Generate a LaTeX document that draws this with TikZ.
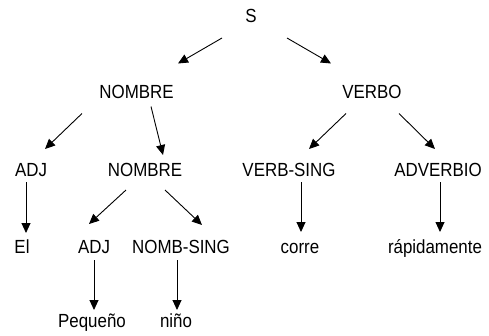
\documentclass[tikz,border=0pt]{standalone}
\usepackage{fontspec}
\setmainfont{Liberation Sans}[FakeStretch=0.89]
\usetikzlibrary{calc,arrows.meta}
\begin{document}
\begin{tikzpicture}[x=1pt,y=-1pt,
  lbl/.style={inner sep=0pt,anchor=base,font=\fontsize{19}{22}\selectfont},
  arr/.style={line width=0.9pt,-{Triangle[length=10pt,width=9pt]}}]
\useasboundingbox (0,0) rectangle (489,335);
\node[lbl] (S) at (251,22) {S};
\node[lbl] (N1) at (136.5,98.5) {NOMBRE};
\node[lbl] (V) at (372,98.5) {VERBO};
\node[lbl] (A1) at (31,176) {ADJ};
\node[lbl] (N2) at (145,176) {NOMBRE};
\node[lbl] (VS) at (289,176) {VERB-SING};
\node[lbl] (AD) at (438,176) {ADVERBIO};
\node[lbl] (El) at (22,253) {El};
\node[lbl] (A2) at (94,253) {ADJ};
\node[lbl] (NS) at (181,253) {NOMB-SING};
\node[lbl] (co) at (300,253) {corre};
\node[lbl] (ra) at (435,253) {rápidamente};
\node[lbl] (pe) at (92,327) {Pequeño};
\node[lbl] (ni) at (176,327) {niño};
\draw[arr] ($(S.base)+(-29,16)$) -- ($(N1.base)+(41.5,-35)$);
\draw[arr] ($(S.base)+(36,16)$) -- ($(V.base)+(-41,-35)$);
\draw[arr] ($(N1.base)+(-54.5,15)$) -- ($(A1.base)+(14,-27)$);
\draw[arr] ($(N1.base)+(14.5,8)$) -- ($(N2.base)+(18,-21)$);
\draw[arr] ($(V.base)+(-26,15)$) -- ($(VS.base)+(20,-27)$);
\draw[arr] ($(V.base)+(27,15)$) -- ($(AD.base)+(-3,-27)$);
\draw[arr] ($(A1.base)+(-5,6)$) -- ($(El.base)+(4,-20)$);
\draw[arr] ($(N2.base)+(-19,14)$) -- ($(A2.base)+(-5,-29)$);
\draw[arr] ($(N2.base)+(20,14)$) -- ($(NS.base)+(21,-28)$);
\draw[arr] ($(VS.base)+(12,6)$) -- ($(co.base)+(1,-21)$);
\draw[arr] ($(AD.base)+(2,6)$) -- ($(ra.base)+(5,-21)$);
\draw[arr] ($(A2.base)+(0,7)$) -- ($(pe.base)+(2,-17)$);
\draw[arr] ($(NS.base)+(-4,7)$) -- ($(ni.base)+(1,-17)$);
\end{tikzpicture}
\end{document}
